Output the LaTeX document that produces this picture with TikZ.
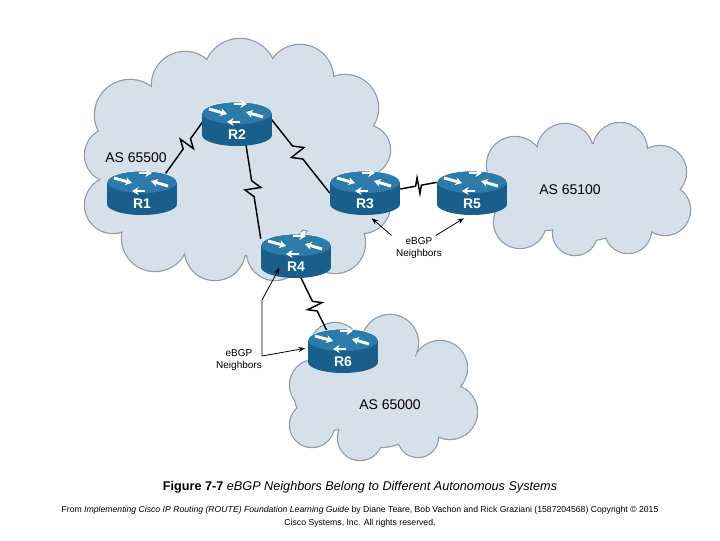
\documentclass[tikz,border=0pt]{standalone}
\usepackage{fontspec}
\setmainfont{Liberation Sans}
\usetikzlibrary{calc,arrows.meta}
\pgfdeclarelayer{clouds}
\pgfdeclarelayer{links}
\pgfsetlayers{clouds,links,main}
\definecolor{cloudfill}{HTML}{D6E0EB}
\definecolor{cloudline}{HTML}{8C9BA8}
\definecolor{rtop}{HTML}{2C7BAA}
\definecolor{rbody}{HTML}{1A5F8C}
\tikzset{
  serial/.style={line width=1.1pt, to path={-- ($(\tikztostart)!0.42!(\tikztotarget)$) -- ($($(\tikztostart)!0.5!(\tikztotarget)$)!6pt!90:(\tikztotarget)$) -- ($($(\tikztostart)!0.5!(\tikztotarget)$)!6pt!-90:(\tikztotarget)$) -- ($(\tikztostart)!0.58!(\tikztotarget)$) -- (\tikztotarget)}},
  hint/.style={-{Stealth[length=5pt]}, line width=0.6pt},
  aslabel/.style={font=\fontsize{10.5}{12}\selectfont},
  nbr/.style={align=center, font=\fontsize{7.5}{9}\selectfont},
  rlabel/.style={text=white, font=\bfseries\fontsize{10.5}{12}\selectfont}
}
% router: name, x, y (centre of the top face), label
\newcommand{\router}[4]{
  \fill[rbody] (#2-35,#3) rectangle (#2+35,#3+22);
  \fill[rbody] (#2,#3+22) ellipse (35 and 11);
  \fill[rtop] (#2,#3) ellipse (35 and 11);
  \draw[white, line width=0.4pt] (#2-35,#3) arc (180:360:35 and 11);
  \foreach \a/\b in {{-28,-4}/{-10,1}, {26,4}/{9,-1}, {-3,-9}/{10,-9}, {3,9}/{-10,9}}
    \draw[white, line width=2.2pt, -{Stealth[length=5pt,width=6pt]}] ($(#2,#3)+(\a)$) -- ($(#2,#3)+(\b)$);
  \node[rlabel] at (#2,#3+22) {#4};
  \node[minimum width=70pt*0.75, minimum height=34pt*0.75, inner sep=0] (#1) at (#2,#3+11) {};
}
\newcommand{\cloud}[1]{
  \foreach \p/\r in {#1} \fill[cloudline] (\p) circle (\r+1.2);
  \foreach \p/\r in {#1} \fill[cloudfill] (\p) circle (\r);
}
\begin{document}
\begin{tikzpicture}[x=0.75pt, y=-0.75pt]
\useasboundingbox (0,0) rectangle (720,540);
% clouds
\begin{pgfonlayer}{clouds}
\cloud{{130,115}/35, {185,85}/33, {240,75}/36, {300,78}/33, {345,108}/33, {365,150}/25, {362,205}/28, {335,243}/30, {275,252}/28, {215,250}/30, {155,238}/33, {113,205}/28, {112,155}/27, {240,165}/90, {170,165}/60, {310,165}/65}
\cloud{{515,165}/28, {565,152}/28, {620,150}/27, {660,172}/26, {665,210}/25, {628,230}/23, {575,233}/22, {520,222}/26, {590,192}/48, {545,190}/40, {635,192}/40}
\cloud{{315,385}/25, {335,348}/25, {390,343}/28, {440,368}/27, {450,412}/27, {418,437}/20, {360,438}/22, {312,425}/22, {380,395}/52, {330,395}/35, {420,395}/38}
\end{pgfonlayer}
\node[aslabel] (as1) at (136,158) {AS 65500};
\node[aslabel] (as2) at (570,190) {AS 65100};
\node[aslabel] (as3) at (390,405) {AS 65000};
% routers
\router{R2}{237}{113}{R2}
\router{R1}{142}{182}{R1}
\router{R3}{365}{182}{R3}
\router{R5}{472}{182}{R5}
\router{R4}{296}{245}{R4}
\router{R6}{343}{340}{R6}
% serial links
\begin{pgfonlayer}{links}
\draw[serial] (R1.north east) ++(-10pt,0) coordinate (c1) to ($(R2.west)+(6pt,9pt)$) coordinate (c2);
\draw[serial] ($(R2.east)+(-5pt,9pt)$) to (R3.west);
\draw[serial] ($(R2.south)+(6pt,2pt)$) to (R4.north west);
\draw[serial] ($(R3.east)+(0,3pt)$) to ($(R5.west)+(0,8pt)$);
\draw[serial] ($(R4.south)+(3pt,-2pt)$) to ($(R6.north)+(-10pt,-2pt)$);
\end{pgfonlayer}
% eBGP neighbours
\node[nbr] (n1) at (419,248) {eBGP\\Neighbors};
\draw[hint] (n1.north west) ++(0,-2pt) -- ($(R3.south)+(5pt,-6pt)$);
\draw[hint] (n1.north east) ++(-8pt,-2pt) -- ($(R5.south)+(-6pt,-6pt)$);
\node[nbr] (n2) at (239,360) {eBGP\\Neighbors};
\coordinate (k) at (262,356);
\coordinate (k2) at (262,300);
\draw[hint] (k) -- (k2) -- ($(R4.south west)+(14pt,4pt)$);
\draw[hint] (k) -- ($(R6.west)+(-2pt,2pt)$);
% caption
\node (cap) at (360,487) {\fontsize{9.5}{11}\selectfont\textbf{Figure 7-7} \textit{eBGP Neighbors Belong to Different Autonomous Systems}};
\node[align=center, font=\fontsize{6.5}{9.8}\selectfont] (src) at (360,517) {From \textit{Implementing Cisco IP Routing (ROUTE) Foundation Learning Guide} by Diane Teare, Bob Vachon and Rick Graziani (1587204568) Copyright © 2015\\Cisco Systems, Inc. All rights reserved.};
\end{tikzpicture}
\end{document}
